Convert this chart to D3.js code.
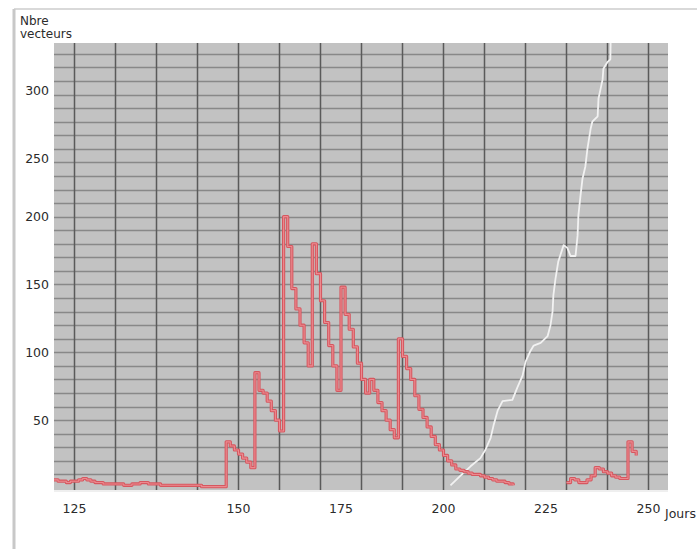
<!DOCTYPE html>
<html>
<head>
<meta charset="utf-8">
<script src="https://cdn.jsdelivr.net/npm/d3@7/dist/d3.min.js"></script>
<style>
  html, body { margin: 0; padding: 0; background: #ffffff; }
  svg { display: block; }
  text { font-family: "DejaVu Sans", "Liberation Sans", Arial, sans-serif; fill: #2b2b2b; }
</style>
</head>
<body>
<svg id="chart" width="697" height="549"></svg>
<script>
// Daily vector counts (red series), first active period, starting at day 105
const redStart1 = 105;
const redValues1 = [
  6, 5, 5, 4, 5, 5, 6, 7, 6, 5, 4, 4, 3, 3, 3, 3, 3, 2, 2, 3,
  3, 4, 4, 3, 3, 3, 2, 2, 2, 2, 2, 2, 2, 2, 2, 2, 1, 1, 1, 1,
  1, 1,
  34, 31, 28, 25, 22, 19, 15,
  85, 72, 70, 64, 57, 50, 42,
  200, 178, 147, 132, 120, 107, 90,
  180, 158, 138, 122, 105, 90, 72,
  148, 128, 117, 104, 92, 80, 70, 80, 72, 63, 57, 50, 43, 37,
  110, 97, 88, 80, 68, 58, 52, 45, 38, 32, 28, 24, 20, 17, 14, 13,
  12, 11, 10, 10, 9, 8, 7, 6, 5, 5, 4, 3, 2
];
// Second active period, starting at day 230
const redStart2 = 230;
const redValues2 = [4, 7, 6, 4, 4, 6, 9, 15, 14, 12, 11, 9, 8, 7, 7, 34, 27, 24];

// Cumulative curve (white series)
const whiteDays = [
  201.7, 204.1, 206.6, 209.0, 210.2, 211.5, 212.2, 213.2, 214.4, 216.8,
  218.0, 219.3, 220.0, 221.2, 222.0, 223.7, 225.4, 226.1, 226.6, 226.8,
  227.3, 228.0, 229.3, 230.2, 231.0, 232.2, 232.7, 232.9, 233.4, 233.9,
  234.6, 235.1, 235.9, 236.3, 237.6, 237.8, 238.3, 238.8, 239.0, 240.0,
  240.7, 240.8
];
const whiteValues = [
  2, 9, 16, 22, 28, 37, 46, 57, 64, 65,
  74, 83, 93, 101, 105, 107, 112, 120, 130, 142,
  154, 167, 179, 177, 171, 171, 186, 201, 215, 228,
  237, 250, 265, 270, 274, 287, 294, 301, 309, 314,
  316, 335
];

// Axis ticks
const xTickDays = [110, 150, 175, 200, 225, 250];
const xTickLabels = ["125", "150", "175", "200", "225", "250"];
const yTickAt = [50, 100, 150, 200, 243, 293];
const yTickLabels = ["50", "100", "150", "200", "250", "300"];
const xGridDays = d3.range(110, 251, 10);
const yGridValues = d3.range(10, 330, 10);

const svg = d3.select("#chart");
const plot = { left: 54, right: 668, top: 43, bottom: 490 };

const x = d3.scaleLinear().domain([105, 255]).range([plot.left, plot.right + 1]);
const y = d3.scaleLinear().domain([0, 328]).range([488, plot.top]);

// panel frame
svg.append("line").attr("x1", 14).attr("x2", 697).attr("y1", 9).attr("y2", 9)
  .attr("stroke", "#d9d9d9").attr("stroke-width", 2);
svg.append("line").attr("x1", 14).attr("x2", 14).attr("y1", 9).attr("y2", 549)
  .attr("stroke", "#c8c8c8").attr("stroke-width", 3);

// plot background
svg.append("rect")
  .attr("x", plot.left).attr("y", plot.top)
  .attr("width", plot.right - plot.left).attr("height", plot.bottom - plot.top)
  .attr("fill", "#c2c2c2");

svg.append("clipPath").attr("id", "plotClip").append("rect")
  .attr("x", plot.left).attr("y", plot.top)
  .attr("width", plot.right - plot.left).attr("height", plot.bottom - plot.top);

const grid = svg.append("g");
grid.selectAll("line.h").data(yGridValues).join("line")
  .attr("class", "h")
  .attr("x1", plot.left).attr("x2", plot.right)
  .attr("y1", d => Math.round(y(d)) + 0.5).attr("y2", d => Math.round(y(d)) + 0.5)
  .attr("stroke", "#888888").attr("stroke-width", 1.6);
grid.selectAll("line.v").data(xGridDays).join("line")
  .attr("class", "v")
  .attr("x1", d => x(d)).attr("x2", d => x(d))
  .attr("y1", plot.top).attr("y2", plot.bottom)
  .attr("stroke", "#5a5a5a").attr("stroke-width", 1.5);

// light edge under the plot
svg.append("line").attr("x1", plot.left).attr("x2", plot.right)
  .attr("y1", plot.bottom + 1).attr("y2", plot.bottom + 1)
  .attr("stroke", "#efefef").attr("stroke-width", 2);

const series = svg.append("g").attr("clip-path", "url(#plotClip)");

// white cumulative line
const whitePts = whiteDays.map((d, i) => [d, whiteValues[i]]);
series.append("path")
  .datum(whitePts)
  .attr("fill", "none")
  .attr("stroke", "#f2f2f2")
  .attr("stroke-width", 1.8)
  .attr("stroke-linejoin", "round")
  .attr("d", d3.line().x(d => x(d[0])).y(d => y(d[1])));

// red daily step lines
const stepLine = d3.line().curve(d3.curveStepAfter).x(d => x(d[0])).y(d => y(d[1]));
const redSegments = [
  redValues1.map((v, i) => [redStart1 + i, v]),
  redValues2.map((v, i) => [redStart2 + i, v])
];
redSegments.forEach(seg => {
  series.append("path").datum(seg)
    .attr("fill", "none").attr("stroke", "#d6575f").attr("stroke-width", 3.2)
    .attr("stroke-linejoin", "round").attr("d", stepLine);
  series.append("path").datum(seg)
    .attr("fill", "none").attr("stroke", "#ec8a90").attr("stroke-width", 1.1)
    .attr("stroke-linejoin", "round").attr("d", stepLine);
});

// y tick labels
svg.append("g").selectAll("text").data(yTickAt).join("text")
  .attr("x", 49)
  .attr("y", d => y(d))
  .attr("dy", "0.36em")
  .attr("text-anchor", "end")
  .attr("font-size", 12.5)
  .text((d, i) => yTickLabels[i]);

// x tick labels
svg.append("g").selectAll("text").data(xTickDays).join("text")
  .attr("x", d => x(d))
  .attr("y", 513)
  .attr("text-anchor", "middle")
  .attr("font-size", 12.5)
  .text((d, i) => xTickLabels[i]);

// axis titles
svg.append("text").attr("x", 665).attr("y", 518).attr("font-size", 12.5).text("Jours");
const yTitle = svg.append("text").attr("x", 20).attr("font-size", 12);
yTitle.append("tspan").attr("x", 20).attr("y", 25).text("Nbre");
yTitle.append("tspan").attr("x", 20).attr("y", 38).text("vecteurs");
</script>
</body>
</html>
